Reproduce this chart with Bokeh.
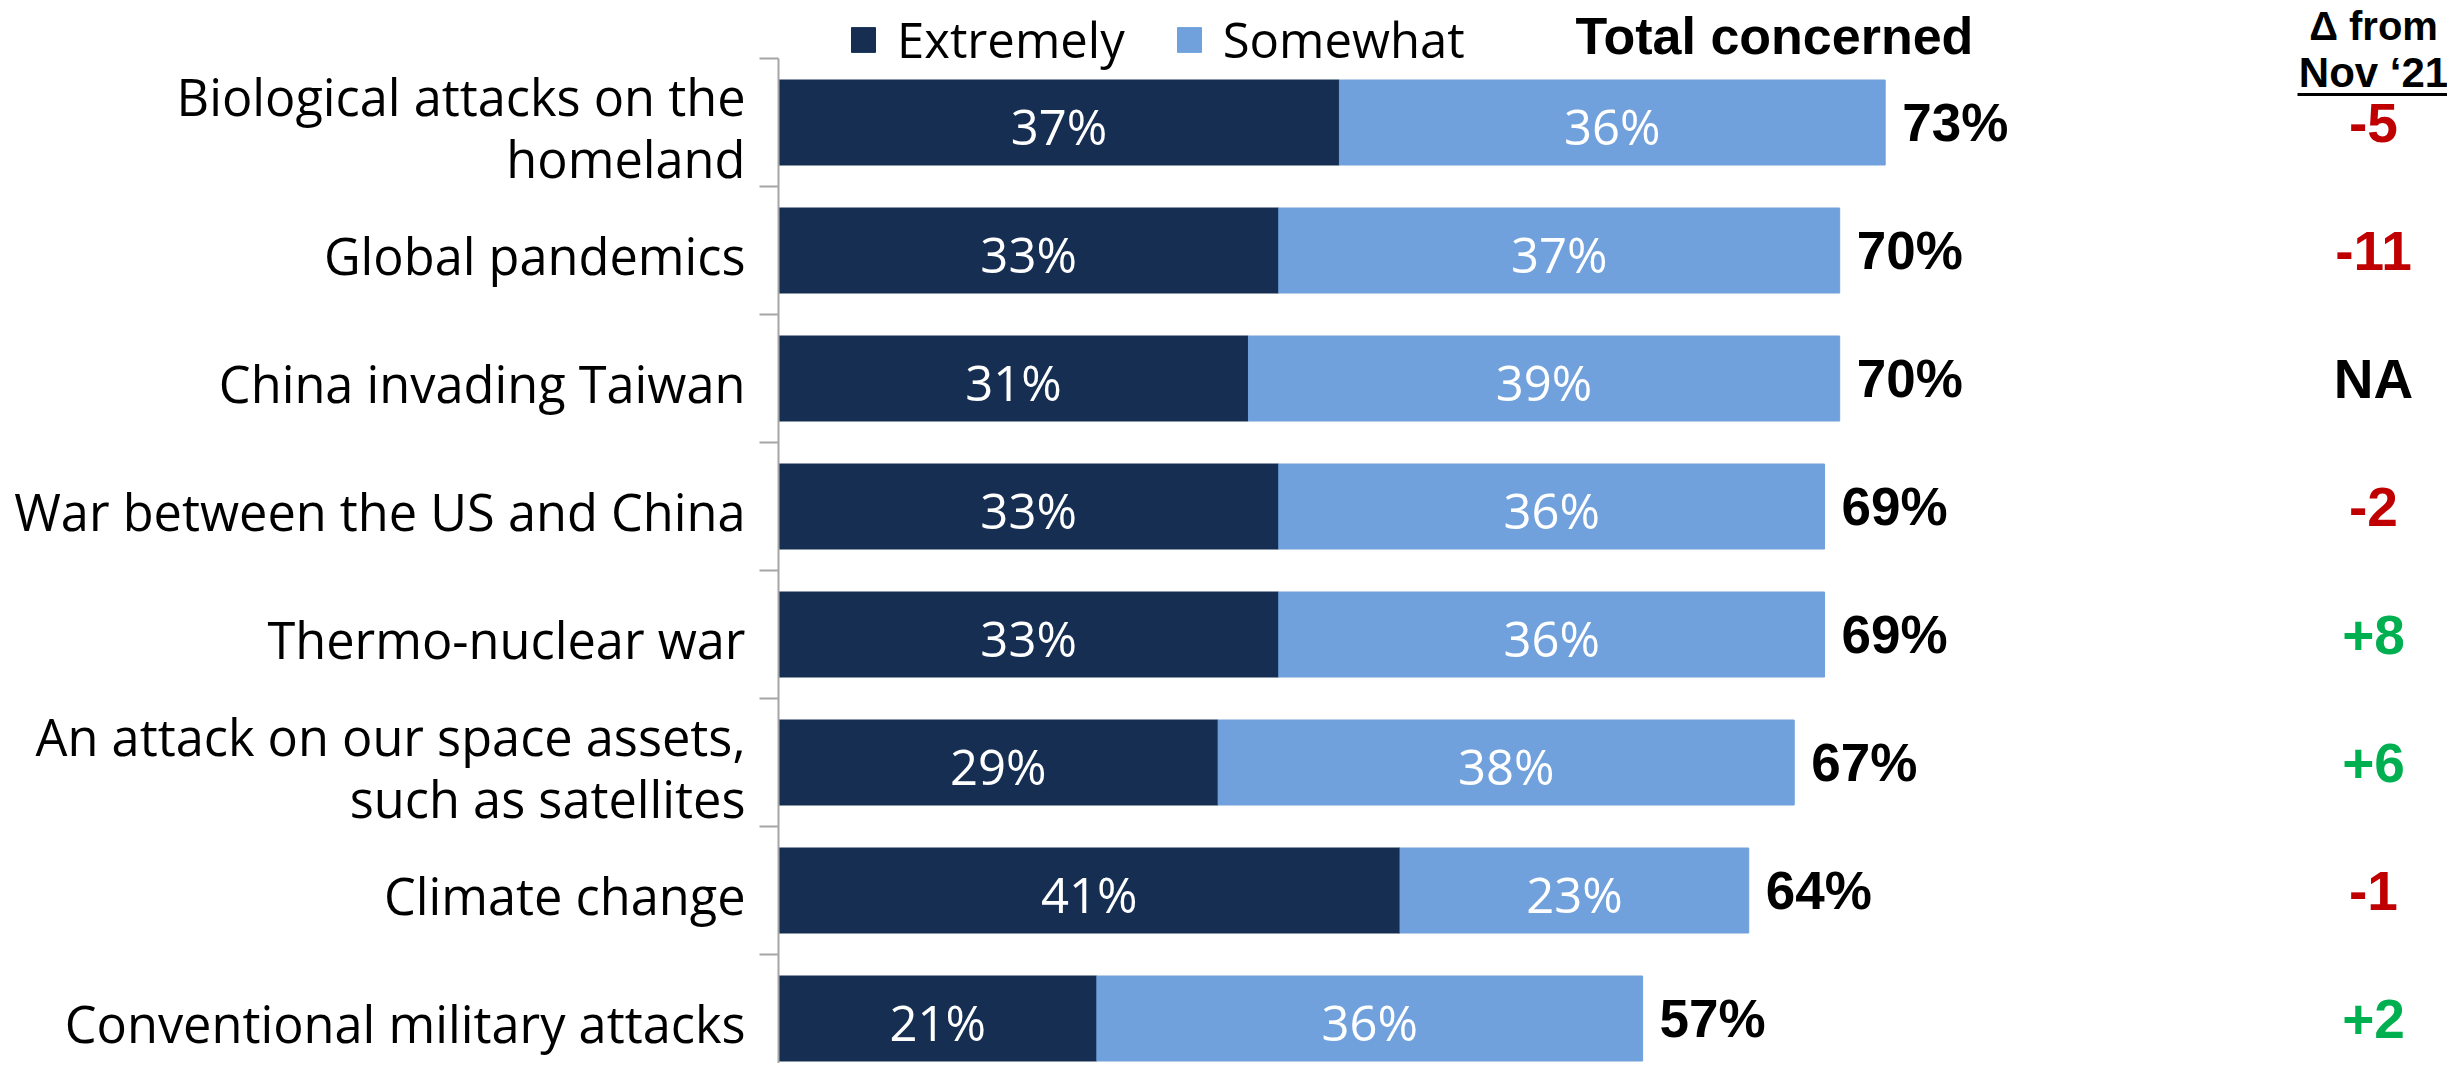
from bokeh.plotting import figure
from bokeh.models import Range1d, LinearAxis, FixedTicker, ColumnDataSource, Legend, LegendItem
from bokeh.core.properties import value
from bokeh.embed import file_html
from bokeh.resources import INLINE

# ---------------- data ----------------
categories = [
    "Biological attacks on the\nhomeland",
    "Global pandemics",
    "China invading Taiwan",
    "War between the US and China",
    "Thermo-nuclear war",
    "An attack on our space assets,\nsuch as satellites",
    "Climate change",
    "Conventional military attacks",
]
extremely = [37, 33, 31, 33, 33, 29, 41, 21]
somewhat = [36, 37, 39, 36, 36, 38, 23, 36]
total_concerned = [73, 70, 70, 69, 69, 67, 64, 57]
delta_nov21 = ["-5", "-11", "NA", "-2", "+8", "+6", "-1", "+2"]
series_names = ["Extremely", "Somewhat"]
header_total = "Total concerned"
header_delta = ["\u0394 from", "Nov \u201821"]

# ---------------- styling / layout ----------------
DARK = "#152E52"
LIGHT = "#70A1DD"
RED = "#C00000"
GREEN = "#00B050"
AXIS_GREY = "#A6A6A6"

W, H = 2447, 1063
AXIS_PX = 778        # canvas x of the value axis (0 %)
PX_PER_PCT = 15.16   # pixels per percentage point
TOP_PX = 122         # canvas y of first category centre
ROW_PX = 128         # pixels per category row
BAR_H = 85 / ROW_PX

n = len(categories)
ys = list(range(n))
delta_colors = [RED if d.startswith("-") else GREEN if d.startswith("+") else "black" for d in delta_nov21]

src = ColumnDataSource(dict(
    y=ys,
    cat=categories,
    extremely=extremely,
    somewhat=somewhat,
    ext_mid=[e / 2 for e in extremely],
    som_mid=[e + s / 2 for e, s in zip(extremely, somewhat)],
    bar_end=[e + s for e, s in zip(extremely, somewhat)],
    ext_lbl=[f"{e}%" for e in extremely],
    som_lbl=[f"{s}%" for s in somewhat],
    tot_lbl=[f"{t}%" for t in total_concerned],
    delta=delta_nov21,
    delta_color=delta_colors,
))

x_range = Range1d(-AXIS_PX / PX_PER_PCT, (W - AXIS_PX) / PX_PER_PCT)
y_range = Range1d((H - TOP_PX) / ROW_PX, -TOP_PX / ROW_PX)

p = figure(width=W, height=H, x_range=x_range, y_range=y_range,
           x_axis_location=None, y_axis_location=None,
           toolbar_location=None, output_backend="svg", min_border=0)
p.outline_line_color = None
p.xgrid.visible = False
p.ygrid.visible = False
p.background_fill_color = "white"
p.border_fill_color = "white"

# category axis line with ticks between categories
yaxis = LinearAxis(fixed_location=0,
                   ticker=FixedTicker(ticks=[i - 0.5 for i in range(n + 1)], minor_ticks=[]),
                   bounds=(-0.5, n - 0.5),
                   major_tick_out=19, major_tick_in=0, minor_tick_out=0, minor_tick_in=0,
                   major_label_text_font_size="0px", major_label_text_alpha=0,
                   axis_line_color=AXIS_GREY, major_tick_line_color=AXIS_GREY,
                   axis_line_width=2, major_tick_line_width=2)
p.add_layout(yaxis, "left")

bars = p.hbar_stack(["extremely", "somewhat"], y="y", height=BAR_H,
                    color=[DARK, LIGHT], source=src)

FONT = value("Open Sans")
BOLD = value("Liberation Sans")

# in-bar labels
for col in ["ext", "som"]:
    p.text(x=f"{col}_mid", y="y", text=f"{col}_lbl", source=src, text_color="white", y_offset=3,
           text_align="center", text_baseline="middle", text_font=FONT, text_font_size="49px")

# totals
p.text(x="bar_end", y="y", text="tot_lbl", source=src, x_offset=17,
       text_align="left", text_baseline="middle", text_font=BOLD,
       text_font_style="bold", text_font_size="53px", text_color="black")

# category labels
p.text(x=0, y="y", text="cat", source=src, x_offset=-33, y_offset=5,
       text_align="right", text_baseline="middle", text_font=FONT,
       text_font_size="50.5px", text_line_height=0.9, text_color="black")

# delta column
DELTA_X = (2373 - AXIS_PX) / PX_PER_PCT
p.text(x=DELTA_X, y="y", text="delta", source=src, text_color="delta_color",
       text_align="center", text_baseline="middle", text_font=BOLD,
       text_font_style="bold", text_font_size="55px")

p.text(x=[DELTA_X], y=[-0.5], text=[header_delta[0]], y_offset=-33,
       text_align="center", text_baseline="middle", text_font=BOLD,
       text_font_style="bold", text_font_size="40px", text_color="black")
p.text(x=[DELTA_X], y=[-0.5], text=[header_delta[1]], y_offset=14,
       text_align="center", text_baseline="middle", text_font=BOLD,
       text_font_style="bold", text_font_size="42px", text_color="black")
p.segment(x0=[DELTA_X - 76 / PX_PER_PCT], x1=[DELTA_X + 76 / PX_PER_PCT],
          y0=[-0.5 + 36 / ROW_PX], y1=[-0.5 + 36 / ROW_PX], line_color="black", line_width=3)

# "Total concerned" header
TOT_HDR_X = (1774 - AXIS_PX) / PX_PER_PCT
p.text(x=[TOT_HDR_X], y=[-0.5], text=[header_total], y_offset=-23,
       text_align="center", text_baseline="middle", text_font=BOLD,
       text_font_style="bold", text_font_size="52px", text_color="black")

legend = Legend(items=[LegendItem(label=series_names[i], renderers=[bars[i]]) for i in range(2)],
                orientation="horizontal", location=(848, H - 72),
                glyph_width=30, glyph_height=31, label_standoff=19, spacing=49,
                padding=0, margin=0, border_line_color=None, background_fill_alpha=0,
                label_text_font="Open Sans", label_text_font_size="49px", label_text_color="black",
                label_text_baseline="middle")
p.add_layout(legend, "center")

open("out.html", "w").write(file_html(p, INLINE))
